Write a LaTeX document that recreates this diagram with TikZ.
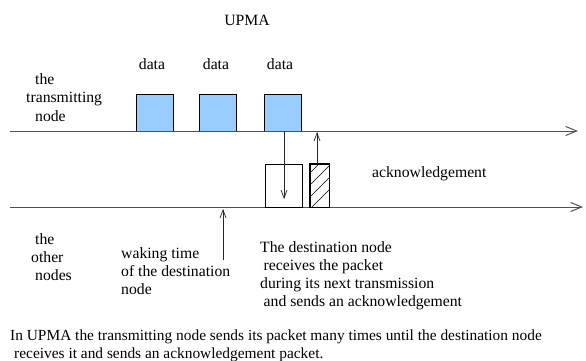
\documentclass[tikz,border=0pt]{standalone}
\usepackage{fontspec}
\setmainfont{Liberation Serif}
\usetikzlibrary{arrows.meta}
\definecolor{pktblue}{HTML}{99CCFF}
\definecolor{linegray}{HTML}{505050}
\begin{document}
\begin{tikzpicture}[x=1pt,y=-1pt,
  font=\fontsize{15.7}{18}\selectfont,
  lbl/.style={inner sep=0pt, anchor=base west, align=left},
  ctr/.style={inner sep=0pt, anchor=base},
  pkt/.style={draw=black, line width=0.7pt, fill=pktblue, minimum width=37pt, minimum height=37pt, inner sep=0pt},
  rbox/.style={draw=black, line width=0.7pt, inner sep=0pt},
  axisline/.style={draw=linegray, line width=1pt, -{Straight Barb[length=11pt,width=9pt]}},
  sig/.style={draw=black!85, line width=0.7pt, -{Straight Barb[length=8pt,width=6pt]}}]
\useasboundingbox (0,0) rectangle (586,361);
% title
\node[ctr] (title) at (247,26) {UPMA};
% time lines
\coordinate (t0) at (10,131);
\coordinate (t1) at (578,131);
\coordinate (o0) at (10,207);
\coordinate (o1) at (583,207);
% packets
\node[pkt] (box1) at (154.5,112.5) {};
\node[pkt] (box2) at (218,112.5) {};
\node[pkt] (box3) at (283,112.5) {};
\draw[axisline] (t0) -- (t1);
\draw[axisline] (o0) -- (o1);
\node[ctr] (d1) at (152,70) {data};
\node[ctr] (d2) at (216,70) {data};
\node[ctr] (d3) at (280,70) {data};
% receive box and ack box
\node[rbox, minimum width=37pt, minimum height=43pt] (recv) at (283.5,185.5) {};
\node[rbox, minimum width=19pt, minimum height=43pt] (ack) at (319.5,185.5) {};
\begin{scope}
  \clip (ack.south west) rectangle (ack.north east);
  \foreach \k in {0,...,5} {
    \draw[line width=0.6pt] (305,{214-12*\k}) -- (335,{184-12*\k});
  }
\end{scope}
\draw[rbox] (ack.south west) rectangle (ack.north east);
% signal arrows
\coordinate (rx) at (284,199);
\draw[sig] (box3.south -| rx) -- (rx);
\coordinate (ax) at (317,132);
\draw[sig] (ack.north -| ax) -- (ax);
\coordinate (wk0) at (223,260);
\coordinate (wk1) at (223,209);
\draw[sig] (wk0) -- (wk1);
% labels (base anchor = baseline of last line)
\node[lbl] (ackl) at (372,177) {acknowledgement};
\node[lbl] (tx) at (26,121) {\hspace*{9pt}the\\transmitting\\\hspace*{9pt}node};
\node[lbl] (oth) at (31,280) {\hspace*{4pt}the\\other\\\hspace*{4pt}nodes};
\node[lbl] (wake) at (121,294) {waking time\\of the destination\\node};
\node[lbl] (dest) at (260,306) {The destination node\\\hspace*{3.5pt}receives the packet\\during its next transmission\\\hspace*{3.5pt}and sends an acknowledgement};
\node[lbl, font=\fontsize{15.4}{17.5}\selectfont] (cap) at (10,358) {In UPMA the transmitting node sends its packet many times until the destination node\\\hspace*{4pt}receives it and sends an acknowledgement packet.};
\end{tikzpicture}
\end{document}
